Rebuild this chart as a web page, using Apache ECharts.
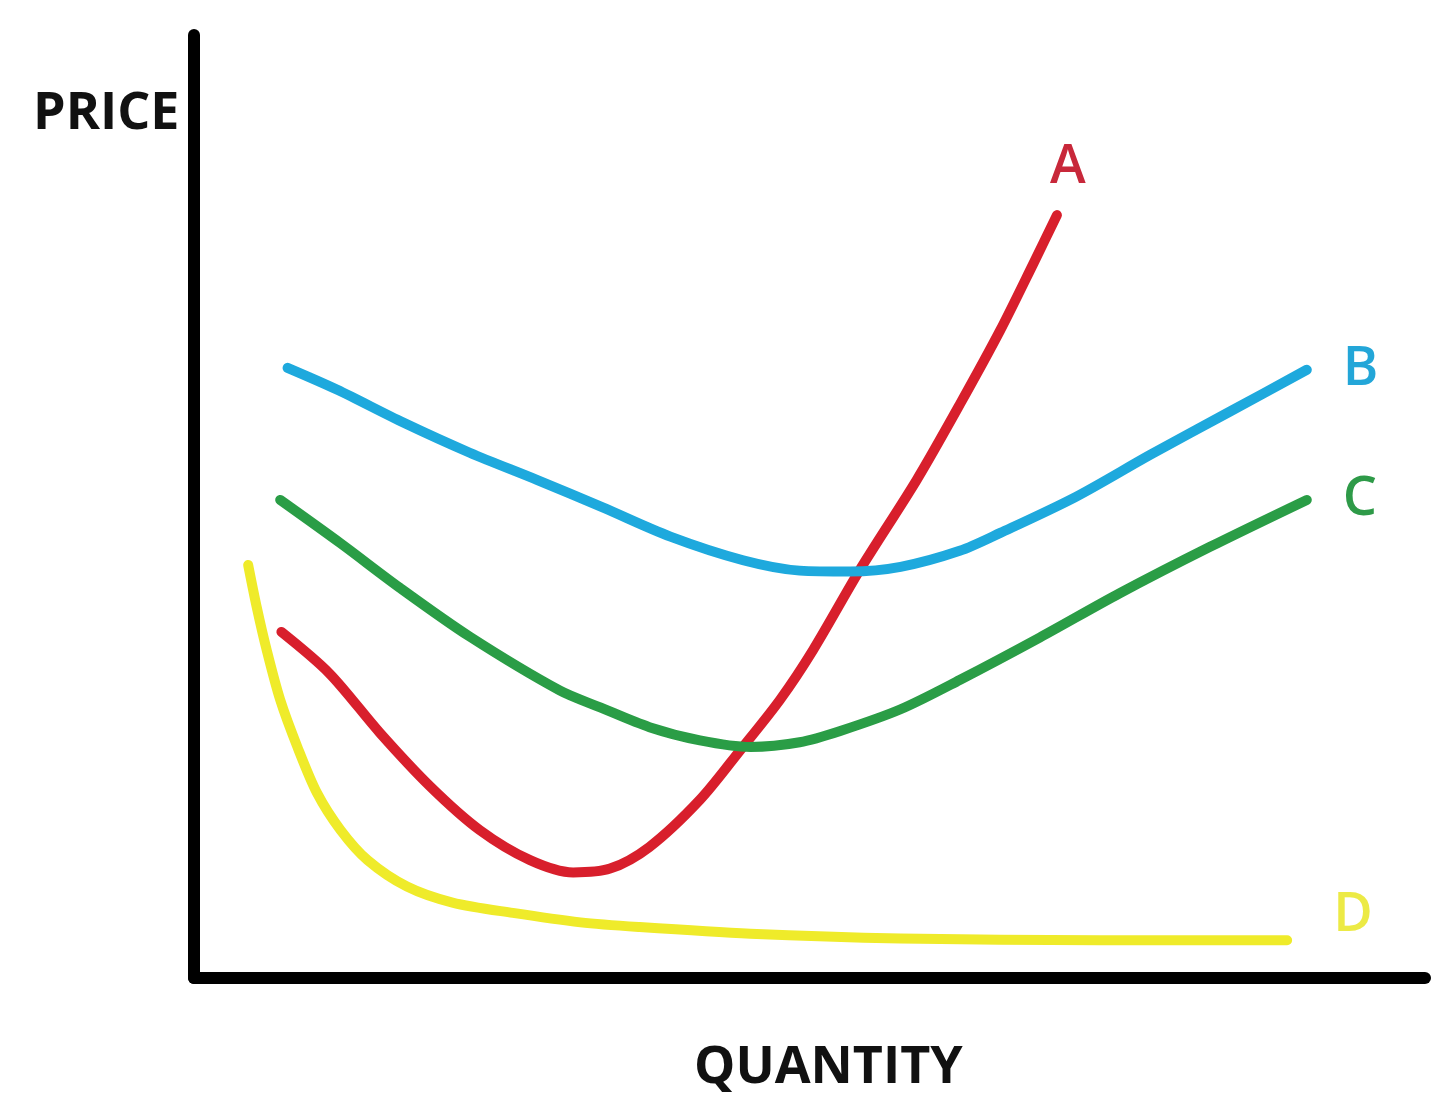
<!DOCTYPE html>
<html>
<head>
<meta charset="utf-8">
<title>Price / Quantity</title>
<script src="https://cdn.jsdelivr.net/npm/echarts@6/dist/echarts.min.js"></script>
<style>
  html, body { margin: 0; padding: 0; background: #fff; }
  #chart { width: 1440px; height: 1105px; }
</style>
</head>
<body>
<div id="chart"></div>
<script>
// curve points: [quantity, price] on a 0-100 scale
var curveA = [
    [7.1, 36.7], [11.0, 32.3], [15.1, 26.0], [19.2, 20.3], [23.2, 15.7],
    [27.3, 12.5], [30.8, 11.2], [33.8, 11.6], [37.0, 13.9], [41.1, 18.9],
    [44.4, 24.2], [47.6, 29.5], [50.3, 34.8], [54.1, 43.3], [58.7, 52.8],
    [62.2, 60.8], [65.5, 68.7], [68.2, 75.8], [70.1, 80.9]
];
var curveB = [
    [7.6, 64.7], [11.6, 62.4], [17.0, 58.9], [22.4, 55.7], [27.9, 52.8],
    [33.2, 49.9], [38.7, 46.8], [44.6, 44.3], [49.2, 43.2], [53.3, 43.1],
    [57.4, 43.6], [62.2, 45.3], [65.5, 47.2], [71.6, 51.0], [77.7, 55.5],
    [84.2, 60.1], [90.4, 64.5]
];
var curveC = [
    [7.0, 50.7], [11.9, 46.1], [16.7, 41.4], [22.4, 36.2], [29.7, 30.5],
    [33.0, 28.7], [37.0, 26.6], [41.1, 25.2], [45.2, 24.5], [49.2, 25.0],
    [52.5, 26.2], [57.4, 28.5], [62.2, 31.6], [68.7, 36.1], [75.2, 40.8],
    [82.5, 45.7], [90.4, 50.7]
];
var curveD = [
    [4.4, 43.8], [5.1, 39.3], [5.9, 34.8], [7.0, 29.5], [8.4, 24.5],
    [10.0, 19.6], [11.9, 15.7], [14.1, 12.5], [17.3, 9.7], [21.0, 8.0],
    [25.9, 6.9], [31.4, 5.9], [36.2, 5.4], [45.2, 4.7], [57.4, 4.2],
    [73.6, 4.0], [88.8, 4.0]
];
var curveNames = ['A', 'B', 'C', 'D'];
var curveColors = ['#d81f2c', '#1ea9dd', '#2a9d46', '#efeb2a'];
var labelColors = ['#c8283a', '#23a6d8', '#2e9a48', '#ecea45'];

var labelFont = '"Open Sans", "DejaVu Sans", sans-serif';

function curve(i, data, labelOpts) {
    return {
        name: curveNames[i],
        type: 'line',
        data: data,
        smooth: 0.3,
        symbol: 'none',
        lineStyle: { color: curveColors[i], width: 10, cap: 'round', join: 'round' },
        endLabel: Object.assign({
            show: true,
            formatter: '{a}',
            color: labelColors[i],
            fontFamily: labelFont,
            fontWeight: 600,
            fontSize: 54
        }, labelOpts),
        silent: true,
        animation: false
    };
}

var chartView = echarts.init(document.getElementById('chart'));
chartView.setOption({
    backgroundColor: '#ffffff',
    grid: { left: 194, top: 35, right: 15, bottom: 127 },
    xAxis: {
        type: 'value', min: 0, max: 100,
        axisLine: { show: true, lineStyle: { color: '#000', width: 12, cap: 'round' } },
        axisTick: { show: false }, axisLabel: { show: false }, splitLine: { show: false }
    },
    yAxis: {
        type: 'value', min: 0, max: 100,
        axisLine: { show: true, lineStyle: { color: '#000', width: 12, cap: 'round' } },
        axisTick: { show: false }, axisLabel: { show: false }, splitLine: { show: false }
    },
    graphic: [
        { type: 'text', left: 33, top: 88,
          style: { text: 'PRICE', fill: '#111', font: 'bold 52px ' + labelFont } },
        { type: 'text', left: 694, top: 1042,
          style: { text: 'QUANTITY', fill: '#111', font: 'bold 52px ' + labelFont } }
    ],
    series: [
        curve(0, curveA, { distance: 22, offset: [-29, -48] }),
        curve(1, curveB, { distance: 36 }),
        curve(2, curveC, { distance: 36 }),
        curve(3, curveD, { distance: 46, offset: [0, -25] })
    ]
});
</script>
</body>
</html>
